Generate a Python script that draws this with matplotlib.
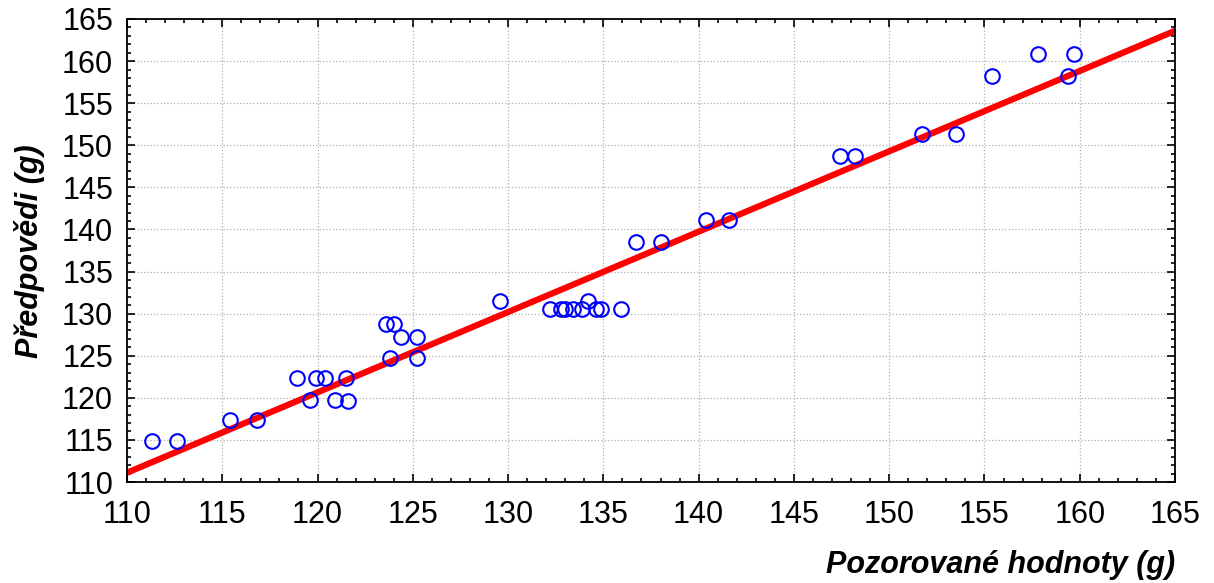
import matplotlib
matplotlib.use("Agg")
import matplotlib.pyplot as plt
from matplotlib.ticker import MultipleLocator

observed = [111.3, 112.6, 115.4, 116.8, 118.9, 119.9, 120.4, 121.5, 119.6, 120.9, 121.6,
            123.6, 124.0, 124.4, 125.2, 123.8, 125.2, 129.6,
            132.2, 132.8, 133.0, 133.4, 133.9, 134.2, 134.6, 134.9, 135.9,
            136.7, 138.0, 140.4, 141.6, 147.4, 148.2, 151.7, 153.5,
            155.4, 157.8, 159.4, 159.7]
predicted = [114.9, 114.9, 117.4, 117.4, 122.3, 122.3, 122.3, 122.3, 119.8, 119.8, 119.6,
             128.8, 128.8, 127.2, 127.2, 124.7, 124.7, 131.5,
             130.5, 130.5, 130.5, 130.5, 130.5, 131.5, 130.5, 130.5, 130.5,
             138.5, 138.5, 141.1, 141.1, 148.7, 148.7, 151.3, 151.3,
             158.2, 160.9, 158.2, 160.9]
fit_x = [110, 165]
fit_y = [111.1, 163.6]

plt.rcParams['font.family'] = ['Liberation Sans', 'DejaVu Sans']

fig = plt.figure(figsize=(12.14, 5.83), dpi=100)
ax = fig.add_axes([127/1214, 1-482/583, (1175-127)/1214, (482-19)/583])

ax.plot(fit_x, fit_y, color='#ff0000', lw=4.5, zorder=2, solid_capstyle='butt')
ax.plot(observed, predicted, 'o', mfc='none', mec='#0000ff', mew=1.5, ms=10.5, zorder=3)

ax.set_xlim(110, 165)
ax.set_ylim(110, 165)
ax.xaxis.set_major_locator(MultipleLocator(5))
ax.yaxis.set_major_locator(MultipleLocator(5))
ax.xaxis.set_minor_locator(MultipleLocator(1))
ax.yaxis.set_minor_locator(MultipleLocator(1))
ax.tick_params(which='both', direction='in', top=True, right=True, labelsize=22, width=1.2)
ax.tick_params(which='major', length=6)
ax.tick_params(which='minor', length=3)
ax.tick_params(axis='x', which='major', pad=13)
ax.tick_params(axis='y', which='major', pad=10)
for s in ax.spines.values():
    s.set_linewidth(1.3)
ax.grid(True, which='major', color='#b0b0b0', linestyle=':', linewidth=0.9)
ax.set_axisbelow(True)

fig.text(1175/1214, 1-565/583, 'Pozorované hodnoty (g)', ha='right', va='center',
         fontsize=22, fontweight='bold', fontstyle='italic')
fig.text(30/1214, 1-251/583, 'Předpovědi (g)', ha='center', va='center', rotation=90,
         fontsize=22, fontweight='bold', fontstyle='italic')

fig.savefig('out.png', dpi=100)
